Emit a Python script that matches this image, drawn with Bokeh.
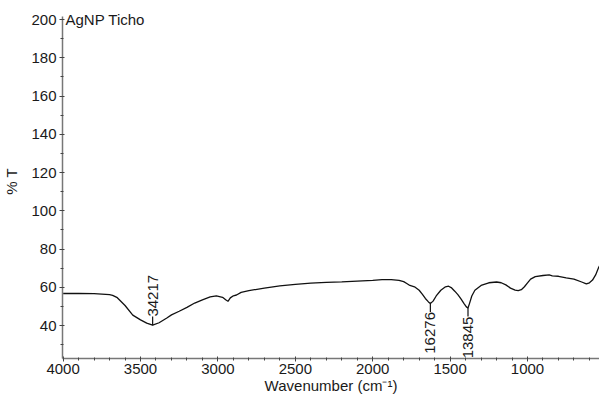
import math
from bokeh.plotting import figure
from bokeh.models import Range1d, FixedTicker, Label, ColumnDataSource
from bokeh.core.properties import value
from bokeh.embed import file_html
from bokeh.resources import INLINE

# ---- data ----
wavenumber = [4000, 3900, 3800, 3700, 3680, 3650, 3600, 3550, 3500, 3460, 3421.7, 3380,
              3330, 3300, 3250, 3200, 3150, 3100, 3050, 3010, 2970, 2950, 2935, 2920,
              2900, 2880, 2850, 2800, 2700, 2600, 2500, 2400, 2300, 2200, 2100, 2000,
              1940, 1880, 1830, 1800, 1780, 1760, 1730, 1700, 1680, 1660, 1640, 1627.6,
              1610, 1590, 1560, 1530, 1510, 1490, 1470, 1450, 1430, 1410, 1395, 1384.5,
              1375, 1360, 1340, 1300, 1250, 1200, 1170, 1140, 1110, 1080, 1060, 1040,
              1020, 1000, 980, 950, 900, 860, 840, 800, 750, 700, 650, 620, 600, 580,
              560, 540, 520, 500, 485]
transmittance = [56.8, 56.9, 56.7, 56.2, 55.8, 54.6, 50.5, 45.5, 43.0, 41.3, 40.2, 41.5,
                 44.0, 45.6, 47.5, 49.5, 51.8, 53.5, 55.0, 55.6, 54.8, 53.5, 52.7, 54.5,
                 55.6, 56.0, 57.4, 58.3, 59.6, 60.8, 61.6, 62.2, 62.6, 62.9, 63.3, 63.7,
                 64.0, 64.0, 63.7, 63.0, 62.0, 61.0, 60.3, 58.5, 56.5, 54.2, 52.4, 51.6,
                 52.8, 55.5, 58.5, 60.3, 60.6, 59.7, 58.0, 56.2, 54.0, 51.5, 49.8, 49.2,
                 51.5, 55.5, 58.5, 61.0, 62.4, 62.8, 62.4, 61.3, 59.6, 58.6, 58.3, 58.8,
                 60.3, 62.3, 64.3, 65.6, 66.2, 66.5, 66.0, 65.8, 65.0, 64.3, 62.8, 61.8,
                 62.4, 63.8, 66.5, 70.5, 73.5, 78.0, 81.0]

peak_wn = [3421.7, 1627.6, 1384.5]
peak_t = [40.2, 51.6, 49.2]
peak_labels = ["34217", "16276", "13845"]
peak_dir = [1, -1, -1]   # 1: label above the minimum, -1: label below

x_ticks = [4000, 3500, 3000, 2500, 2000, 1500, 1000, 500]
x_minor = list(range(4000, 399, -100))
y_ticks = [40, 60, 80, 100, 120, 140, 160, 180, 200]
y_minor = [30, 50, 70, 90, 110, 130, 150, 170, 190]

FONT = "Liberation Sans"
TXT = "#1a1a1a"

p = figure(width=599, height=396, output_backend="svg", toolbar_location=None,
           x_range=Range1d(4004, 535), y_range=Range1d(22.8, 207.9),
           min_border_left=54, min_border_right=0, min_border_top=4,
           min_border_bottom=37)
p.outline_line_color = None
p.grid.visible = False
p.background_fill_color = "white"

p.line(wavenumber, transmittance, line_color="#111111", line_width=1.3)

# peak markers and labels
off = 4.5
seg_y1 = [t + d * off for t, d in zip(peak_t, peak_dir)]
p.segment(x0=peak_wn, y0=peak_t, x1=peak_wn, y1=seg_y1, line_color="#111111", line_width=1.2)
src = ColumnDataSource(dict(x=peak_wn, y=seg_y1, t=peak_labels,
                            align=["left" if d > 0 else "right" for d in peak_dir]))
p.text(x="x", y="y", text="t", source=src, angle=math.pi / 2, text_align="align",
       text_baseline="middle", text_font=value(FONT), text_font_size="15px",
       text_color=TXT)

p.add_layout(Label(x=3, y=200, x_units="screen", y_units="data", text="AgNP Ticho",
                   text_font=FONT, text_font_size="15px", text_color=TXT,
                   text_baseline="middle"))

for ax in (p.xaxis[0], p.yaxis[0]):
    ax.axis_line_color = "#777777"
    ax.axis_line_width = 1.5
    ax.major_tick_line_color = "#444444"
    ax.minor_tick_line_color = "#444444"
    ax.major_tick_in = 2
    ax.major_tick_out = 3
    ax.minor_tick_in = 1
    ax.minor_tick_out = 2
    ax.major_label_text_font = FONT
    ax.major_label_text_font_size = "15px"
    ax.major_label_text_color = TXT
    ax.axis_label_text_font = FONT
    ax.axis_label_text_font_size = "15px"
    ax.axis_label_text_font_style = "normal"
    ax.axis_label_text_color = TXT

p.xaxis[0].ticker = FixedTicker(ticks=x_ticks, minor_ticks=x_minor)
p.yaxis[0].ticker = FixedTicker(ticks=y_ticks, minor_ticks=y_minor)
p.yaxis[0].bounds = (22.8, 201.6)
p.xaxis[0].axis_label = "Wavenumber (cm⁻¹)"
p.yaxis[0].axis_label = "% T"
p.xaxis[0].major_label_standoff = 2
p.xaxis[0].axis_label_standoff = 0
p.yaxis[0].major_label_standoff = 3
p.yaxis[0].axis_label_standoff = 8

open("out.html", "w").write(file_html(p, INLINE))
